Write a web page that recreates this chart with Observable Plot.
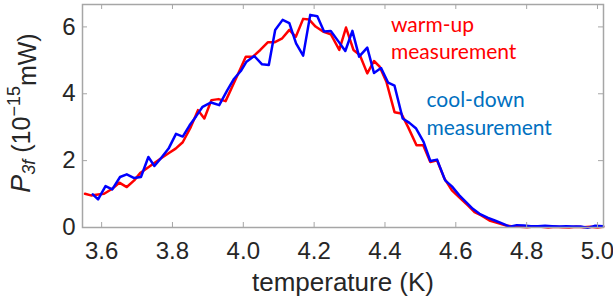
<!DOCTYPE html>
<html>
<head>
<meta charset="utf-8">
<script src="https://cdn.jsdelivr.net/npm/d3@7"></script>
<script src="https://cdn.jsdelivr.net/npm/@observablehq/plot@0.6"></script>
<style>
  html, body { margin: 0; padding: 0; background: #fff; }
</style>
</head>
<body>
<div id="chart"></div>
<script>
// warm-up measurement (red)
const redTemp = [3.553,3.570,3.590,3.607,3.630,3.650,3.671,3.692,3.710,3.729,3.749,3.769,3.789,3.809,3.829,3.852,3.872,3.890,3.910,3.930,3.950,3.969,3.988,4.007,4.027,4.048,4.069,4.088,4.110,4.130,4.148,4.169,4.186,4.204,4.225,4.247,4.271,4.290,4.311,4.329,4.350,4.369,4.385,4.404,4.427,4.446,4.465,4.489,4.508,4.528,4.547,4.568,4.589,4.612,4.634,4.653,4.672,4.695,4.719,4.742,4.761,4.781,4.801,4.821,4.841,4.861,4.881,4.900,4.920,4.940,4.960,4.980,5.000,5.016];
const redPower = [1.01,0.96,0.99,1.01,1.16,1.34,1.21,1.41,1.64,1.78,1.93,2.08,2.22,2.36,2.55,3.01,3.51,3.26,3.81,3.84,3.78,4.22,4.66,5.11,5.11,5.31,5.54,5.54,5.66,5.91,5.70,6.24,6.22,6.01,5.86,5.78,5.31,5.98,5.31,5.16,4.61,4.98,4.81,4.36,3.45,3.41,3.01,2.46,2.46,1.96,2.01,1.46,1.11,0.88,0.66,0.46,0.36,0.21,0.13,0.06,0.03,0.02,0.01,0.03,0.02,0.00,0.02,0.01,0.00,0.02,0.01,0.02,0.00,0.02];
// cool-down measurement (blue)
const blueTemp = [3.575,3.590,3.611,3.630,3.652,3.671,3.692,3.711,3.732,3.749,3.768,3.789,3.810,3.829,3.848,3.867,3.885,3.909,3.932,3.955,3.974,3.993,4.009,4.031,4.053,4.072,4.090,4.111,4.130,4.149,4.169,4.189,4.209,4.228,4.247,4.269,4.288,4.308,4.327,4.350,4.369,4.389,4.409,4.427,4.450,4.469,4.488,4.509,4.528,4.547,4.570,4.589,4.610,4.629,4.648,4.667,4.691,4.710,4.734,4.753,4.772,4.792,4.812,4.832,4.852,4.872,4.892,4.912,4.932,4.952,4.972,4.992,5.016];
const bluePower = [0.99,0.84,1.24,1.14,1.51,1.59,1.48,1.51,2.11,1.84,2.08,2.36,2.80,2.72,3.05,3.33,3.61,3.74,3.66,4.11,4.45,4.68,4.96,5.13,4.88,4.86,5.91,6.21,6.11,5.51,5.14,6.36,6.32,5.86,5.88,5.56,5.28,5.88,5.11,5.38,4.62,4.77,4.33,4.24,3.26,3.13,2.96,2.56,1.99,2.03,1.41,1.23,0.96,0.76,0.56,0.41,0.29,0.21,0.11,0.02,0.07,0.06,0.04,0.04,0.05,0.04,0.03,0.04,0.03,0.03,-0.01,0.05,0.04];

const xTicks = [3.6, 3.8, 4.0, 4.2, 4.4, 4.6, 4.8, 5.0];
const yTicks = [0, 2, 4, 6];
const warmLabel = ["warm-up", "measurement"];
const coolLabel = ["cool-down", "measurement"];
const xLabel = ["temperature (K)"];

const red = redTemp.map((t, i) => ({t, p: redPower[i]}));
const blue = blueTemp.map((t, i) => ({t, p: bluePower[i]}));

const frameColor = "#a6a6a6";
const W = 613, H = 306, ML = 82, MR = 10, MT = 4, MB = 79;
const fw = W - ML - MR, fh = H - MT - MB;

const legendText = (label, x, y, color) =>
  Plot.text(label, {frameAnchor: "top-left", dx: x - ML, dy: y - MT, text: d => d, textAnchor: "start", lineAnchor: "middle", fontFamily: "Lato", fontSize: 21, fill: color});

const svg = Plot.plot({
  width: W,
  height: H,
  marginLeft: ML,
  marginRight: MR,
  marginTop: MT,
  marginBottom: MB,
  style: {fontFamily: "Liberation Sans, Arial, sans-serif", fontSize: "24px", color: "#262626", background: "#fff"},
  x: {domain: [3.546, 5.017]},
  y: {domain: [0, 6.67]},
  marks: [
    Plot.line(red, {x: "t", y: "p", stroke: "#ff0000", strokeWidth: 2.5}),
    Plot.line(blue, {x: "t", y: "p", stroke: "#0000ff", strokeWidth: 2.5}),
    Plot.frame({stroke: frameColor, strokeWidth: 1.5}),
    Plot.tickX(xTicks, {x: d => d, insetTop: fh - 5, stroke: frameColor, strokeWidth: 1}),
    Plot.tickX(xTicks, {x: d => d, insetBottom: fh - 5, stroke: frameColor, strokeWidth: 1}),
    Plot.tickY(yTicks, {y: d => d, insetRight: fw - 5, stroke: frameColor, strokeWidth: 1}),
    Plot.tickY(yTicks, {y: d => d, insetLeft: fw - 5, stroke: frameColor, strokeWidth: 1}),
    Plot.axisX(xTicks, {tickSize: 0, tickPadding: 14, tickFormat: d3.format(".1f"), fontSize: 24, label: null}),
    Plot.axisY(yTicks, {tickSize: 0, tickPadding: 7, fontSize: 24, label: null}),
    Plot.text(xLabel, {frameAnchor: "bottom", dy: 55, lineAnchor: "middle", text: d => d, fontSize: 26, fill: "#262626"}),
    legendText([warmLabel[0]], 390.5, 25, "#ff0000"),
    legendText([warmLabel[1]], 390.5, 51.6, "#ff0000"),
    legendText([coolLabel[0]], 426, 100, "#0070c0"),
    legendText([coolLabel[1]], 426, 127.6, "#0070c0")
  ]
});

// y-axis title with italic P, subscript 3f and superscript −15
const yt = d3.select(svg).append("text")
  .attr("transform", "translate(30,113) rotate(-90)")
  .attr("text-anchor", "middle")
  .attr("font-family", "Liberation Sans, Arial, sans-serif")
  .attr("font-size", 25)
  .attr("fill", "#262626");
yt.append("tspan").attr("font-style", "italic").attr("font-size", 27).text("P");
yt.append("tspan").attr("font-style", "italic").attr("font-size", 18).attr("dy", 5).text("3f");
yt.append("tspan").attr("dy", -5).text(" (10");
yt.append("tspan").attr("font-size", 18).attr("dy", -10).text("−15");
yt.append("tspan").attr("dy", 16).text("mW)");

document.getElementById("chart").appendChild(svg);
</script>
</body>
</html>
